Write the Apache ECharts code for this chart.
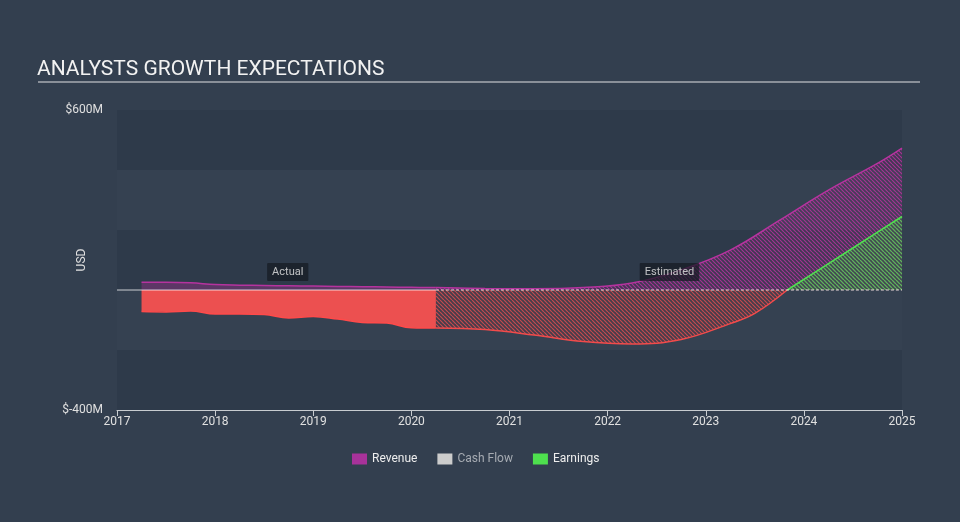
<!DOCTYPE html>
<html>
<head>
<meta charset="utf-8">
<script src="https://cdn.jsdelivr.net/npm/echarts@6/dist/echarts.min.js"></script>
<style>
html,body{margin:0;padding:0;background:#333f4f;}
#c{width:960px;height:522px;}
</style>
</head>
<body>
<div id="c"></div>
<script>
// ---- data (USD millions) ----
const revenueActualX = [2017.25, 2017.5, 2017.75, 2018.0, 2018.25, 2018.5, 2018.75, 2019.0, 2019.25, 2019.5, 2019.75, 2020.0, 2020.25];
const revenueActual  = [26, 26, 24, 18, 16, 15, 14, 13, 12, 11, 10, 9, 8];
const earningsActual = [-72, -73, -70, -80, -80, -82, -93, -88, -97, -108, -110, -126, -127];

const revenueEstX = [2020.25, 2020.75, 2021.25, 2021.75, 2022.25, 2022.75, 2023.25, 2023.75, 2024.25, 2024.75, 2025.0];
const revenueEst  = [8, 5, 4, 8, 23, 67, 133, 232, 333, 422, 473];

const earningsEstNegX = [2020.25, 2020.75, 2021.25, 2021.75, 2022.25, 2022.75, 2023.25, 2023.5, 2023.83];
const earningsEstNeg  = [-127, -132, -150, -172, -180, -165, -112, -78, 0];
const earningsEstPosX = [2023.83, 2024.5, 2025.0];
const earningsEstPos  = [0, 140, 245];

const cashFlow = [];

const xTicks = [2017, 2018, 2019, 2020, 2021, 2022, 2023, 2024, 2025];
const yTickLabels = {600: '$600M', '-400': '$-400M'};
const splitX = 2020.25;
const annotations = [
  {text: 'Actual', x: 2018.74, y: 60},
  {text: 'Estimated', x: 2022.63, y: 60}
];

// ---- helpers ----
function pairs(xs, ys) { return xs.map((x, i) => [x, ys[i]]); }
function hatch(color, bg) {
  const c = document.createElement('canvas');
  c.width = 4; c.height = 4;
  const g = c.getContext('2d');
  if (bg) { g.fillStyle = bg; g.fillRect(0, 0, 4, 4); }
  g.strokeStyle = color; g.lineWidth = 1.2;
  g.beginPath();
  for (let o = -4; o <= 4; o += 4) { g.moveTo(o, 0); g.lineTo(o + 4, 4); }
  g.stroke();
  return {image: c, repeat: 'repeat'};
}

const PURPLE = '#b6339f';
const RED = '#f24b4b';
const GREEN = '#4fe04f';

const chart = echarts.init(document.getElementById('c'), null, {renderer: 'canvas'});
const font = 'Roboto, "Noto Sans", sans-serif';

chart.setOption({
  animation: false,
  backgroundColor: '#333f4f',
  textStyle: {fontFamily: font},
  title: {
    text: 'ANALYSTS GROWTH EXPECTATIONS',
    left: 32, top: 54,
    textStyle: {color: '#f2f2f2', fontSize: 21, fontWeight: 'normal', fontFamily: font}
  },
  graphic: [{
    type: 'line', shape: {x1: 38, y1: 82, x2: 920, y2: 82},
    style: {stroke: '#a9adb2', lineWidth: 1.5}
  }, {
    type: 'text', x: 82, y: 260, rotation: Math.PI / 2,
    style: {text: 'USD', fill: '#e0e0e0', font: '12px ' + font, textAlign: 'center', textVerticalAlign: 'middle'}
  }],
  legend: {
    left: 347, top: 448,
    icon: 'rect', itemWidth: 15, itemHeight: 11, itemGap: 20,
    textStyle: {color: '#eeeeee', fontSize: 12, fontFamily: font},
    data: [
      {name: 'Revenue', itemStyle: {color: '#a8329a'}},
      {name: 'Cash Flow', itemStyle: {color: '#cccccc'}, textStyle: {color: '#a6abb2'}},
      {name: 'Earnings', itemStyle: {color: '#4ee04e'}}
    ],
    selectedMode: false
  },
  grid: {left: 117, right: 58, top: 110, bottom: 112},
  xAxis: {
    type: 'value', min: 2017, max: 2025, interval: 1,
    axisLine: {show: true, onZero: false, lineStyle: {color: '#c8ccd0', width: 1}},
    axisTick: {show: true, length: 6, lineStyle: {color: '#c8ccd0'}},
    axisLabel: {color: '#e0e0e0', fontSize: 12, margin: 6, formatter: v => xTicks.includes(v) ? String(v) : ''},
    splitLine: {show: false}
  },
  yAxis: {
    type: 'value', min: -400, max: 600, interval: 200,
    axisLine: {show: false}, axisTick: {show: false},
    axisLabel: {color: '#e0e0e0', fontSize: 12, margin: 14, formatter: v => yTickLabels[v] || ''},
    splitLine: {show: false},
    splitArea: {show: true, areaStyle: {color: ['rgba(20,28,40,0.12)', 'rgba(255,255,255,0.01)']}}
  },
  series: [
    {
      name: 'Cash Flow', type: 'line', data: cashFlow, itemStyle: {color: '#cccccc'}
    },
    {
      name: 'Revenue', type: 'line', data: pairs(revenueActualX, revenueActual),
      smooth: 0.4, showSymbol: false, z: 3,
      lineStyle: {color: PURPLE, width: 1.5},
      areaStyle: {color: 'rgba(160,50,140,0.6)', origin: 0},
      itemStyle: {color: PURPLE}
    },
    {
      name: 'Earnings', type: 'line', data: pairs(revenueActualX, earningsActual),
      smooth: 0.4, showSymbol: false, z: 3,
      lineStyle: {color: '#ff4a4a', width: 1.5},
      areaStyle: {color: '#ec5050', opacity: 1, origin: 0},
      itemStyle: {color: GREEN}
    },
    {
      name: 'Revenue', type: 'line', data: pairs(revenueEstX, revenueEst),
      smooth: 0.4, showSymbol: false, z: 3,
      lineStyle: {color: PURPLE, width: 1.5},
      areaStyle: {color: hatch('rgba(182,51,159,0.85)', 'rgba(120,50,110,0.25)'), opacity: 1, origin: 0},
      itemStyle: {color: PURPLE}
    },
    {
      name: 'Earnings', type: 'line', data: pairs(earningsEstNegX, earningsEstNeg),
      smooth: 0.4, showSymbol: false, z: 4,
      lineStyle: {color: RED, width: 1.5},
      areaStyle: {color: hatch('rgba(240,80,80,0.75)', 'rgba(120,50,60,0.25)'), opacity: 1, origin: 0},
      itemStyle: {color: GREEN}
    },
    {
      name: 'Earnings', type: 'line', data: pairs(earningsEstPosX, earningsEstPos),
      smooth: 0.2, showSymbol: false, z: 4,
      lineStyle: {color: GREEN, width: 1.5},
      areaStyle: {color: hatch('rgba(80,220,80,0.8)', 'rgba(60,120,70,0.3)'), opacity: 1, origin: 0},
      itemStyle: {color: GREEN}
    },
    {
      name: 'zeroSolid', type: 'line', data: [[2017, 0], [splitX, 0]],
      showSymbol: false, silent: true, z: 6,
      lineStyle: {color: 'rgba(255,255,255,0.75)', width: 1}
    },
    {
      name: 'zeroDashed', type: 'line', data: [[splitX, 0], [2025, 0]],
      showSymbol: false, silent: true, z: 6,
      lineStyle: {color: 'rgba(255,235,235,0.9)', width: 1, type: [3, 2]}
    },
    {
      name: 'labels', type: 'scatter', symbolSize: 0, silent: true, z: 10,
      data: annotations.map(a => ({value: [a.x, a.y], name: a.text})),
      label: {
        show: true, position: 'inside', formatter: p => p.name,
        color: '#e8e8e8', fontSize: 11, fontFamily: font,
        backgroundColor: 'rgba(22,27,35,0.92)', padding: [4, 5, 3, 5], borderRadius: 1
      }
    }
  ]
});
</script>
</body>
</html>
